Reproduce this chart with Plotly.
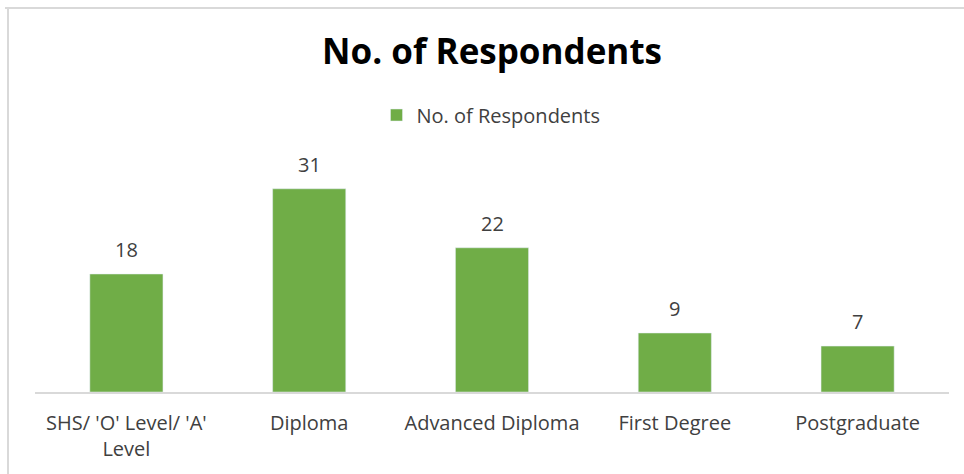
import plotly.graph_objects as go

# Education level of respondents
categories = ["SHS/ 'O' Level/ 'A'<br>Level", "Diploma", "Advanced Diploma", "First Degree", "Postgraduate"]
respondents = [18, 31, 22, 9, 7]
series_name = "No. of Respondents"

BAR_COLOR = "#70AD47"
TEXT_COLOR = "#404040"
FONT = "Open Sans"

W, H = 964, 474
ML, MR, MT, MB = 35, 15, 156, 82
PW = W - ML - MR
PH = H - MT - MB


def px_x(x):
    return (x - ML) / PW


def px_y(y):
    return (H - MB - y) / PH


fig = go.Figure(
    go.Bar(
        x=categories,
        y=respondents,
        name=series_name,
        marker_color=BAR_COLOR,
        showlegend=True,
    )
)

# value labels above each bar
for cat, val in zip(categories, respondents):
    fig.add_annotation(
        x=cat, y=val, text=str(val), showarrow=False,
        yanchor="bottom", yshift=9,
        font=dict(family=FONT, size=20, color=TEXT_COLOR),
    )

# chart frame (top and left edges)
frame = dict(type="line", xref="paper", yref="paper",
             line=dict(color="#d9d9d9", width=2), layer="below")
fig.add_shape(**frame, x0=px_x(5), x1=px_x(964), y0=px_y(8), y1=px_y(8))
fig.add_shape(**frame, x0=px_x(8), x1=px_x(8), y0=px_y(8), y1=px_y(474))

fig.update_layout(
    width=W, height=H,
    margin=dict(l=ML, r=MR, t=MT, b=MB, pad=0),
    paper_bgcolor="white", plot_bgcolor="white",
    bargap=0.6,
    title=dict(text="<b>No. of Respondents</b>", xref="container", x=492 / W, xanchor="center",
               y=1 - 52 / H, yanchor="middle",
               font=dict(family=FONT, size=35, color="#000000")),
    legend=dict(orientation="h", x=px_x(491), xanchor="center", y=px_y(115), yanchor="middle",
                font=dict(family=FONT, size=20, color=TEXT_COLOR),
                itemwidth=30, bgcolor="rgba(0,0,0,0)"),
    xaxis=dict(showline=True, linecolor="#d9d9d9", linewidth=2, ticks="",
               tickfont=dict(family=FONT, size=20, color=TEXT_COLOR),
               ticklabelstandoff=12, showgrid=False),
    yaxis=dict(visible=False, range=[0, 36], showgrid=False, zeroline=False),
)

fig.write_html("out.html")
